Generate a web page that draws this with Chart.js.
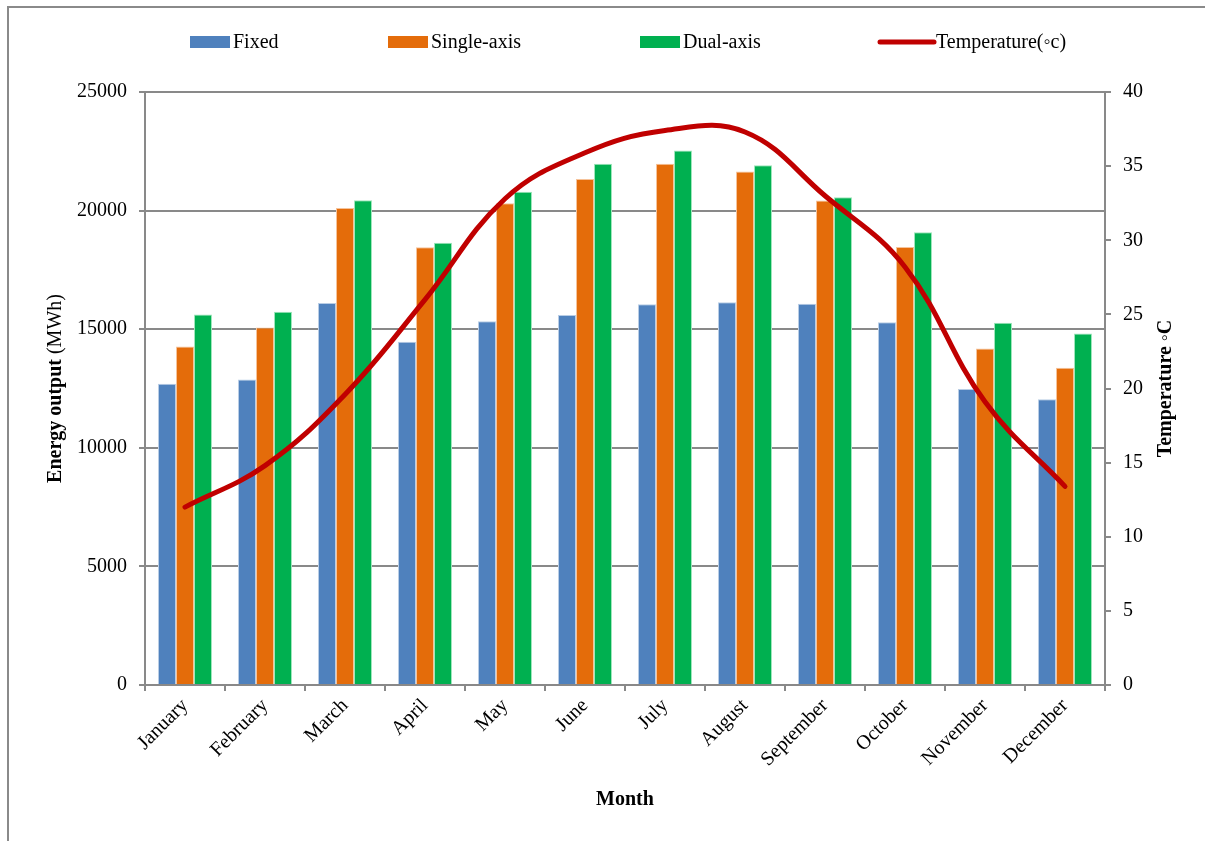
<!DOCTYPE html>
<html>
<head>
<meta charset="utf-8">
<script src="https://cdn.jsdelivr.net/npm/chart.js@4/dist/chart.umd.min.js"></script>
<style>
  body { margin: 0; background: #fff; }
  canvas { display: block; }
</style>
</head>
<body>
<canvas id="chart-energy" width="1205" height="841"></canvas>
<script>
// monthly data
const months = ['January', 'February', 'March', 'April', 'May', 'June',
    'July', 'August', 'September', 'October', 'November', 'December'];
const fixedOut = [12700, 12880, 16100, 14470, 15340, 15600, 16050, 16140, 16070, 15290, 12480, 12050];
const singleAxisOut = [14270, 15070, 20110, 18460, 20310, 21330, 21980, 21650, 20430, 18470, 14190, 13370];
const dualAxisOut = [15620, 15740, 20440, 18640, 20790, 21980, 22530, 21910, 20560, 19090, 15270, 14820];
const temperature = [12.0, 14.8, 19.6, 26.0, 32.8, 35.9, 37.4, 37.3, 33.0, 28.2, 19.1, 13.4];

const energyTicks = [0, 5000, 10000, 15000, 20000, 25000];
const tempTicks = [0, 5, 10, 15, 20, 25, 30, 35, 40];

const serif = '"Liberation Serif", "Times New Roman", serif';
const gray = '#898989';

// frame, legend and axis titles drawn by hand
const decorPlugin = {
    id: 'decor',
    beforeDraw(chart) {
        const ctx = chart.ctx;
        ctx.save();
        ctx.strokeStyle = '#8a8a8a';
        ctx.lineWidth = 2;
        ctx.beginPath();
        ctx.moveTo(8, 841);
        ctx.lineTo(8, 7);
        ctx.lineTo(1205, 7);
        ctx.stroke();
        ctx.restore();
    },
    afterDraw(chart) {
        const ctx = chart.ctx;
        const ds = chart.data.datasets;
        ctx.save();
        ctx.fillStyle = '#000';
        ctx.textBaseline = 'middle';
        ctx.font = '20px ' + serif;

        // legend
        const legendX = [190, 388, 640, 878];
        const legendY = 42;
        ds.forEach((d, i) => {
            const x = legendX[i];
            let textX;
            if (d.type === 'line') {
                ctx.strokeStyle = d.borderColor;
                ctx.lineWidth = 5;
                ctx.lineCap = 'round';
                ctx.beginPath();
                ctx.moveTo(x + 2, legendY);
                ctx.lineTo(x + 56, legendY);
                ctx.stroke();
                textX = x + 58;
            } else {
                ctx.fillStyle = d.backgroundColor;
                ctx.fillRect(x, legendY - 6, 40, 12);
                textX = x + 43;
            }
            ctx.fillStyle = '#000';
            ctx.textAlign = 'left';
            ctx.fillText(d.label, textX, legendY + 1);
        });

        // x title
        ctx.textAlign = 'center';
        ctx.font = 'bold 20px ' + serif;
        ctx.fillText('Month', 625, 800);

        // left title: bold + normal part
        const area = chart.chartArea;
        const midY = (area.top + area.bottom) / 2;
        ctx.save();
        ctx.translate(56, midY);
        ctx.rotate(-Math.PI / 2);
        ctx.font = 'bold 20px ' + serif;
        const part1 = 'Energy output';
        const w1 = ctx.measureText(part1).width;
        ctx.font = '20px ' + serif;
        const part2 = ' (MWh)';
        const w2 = ctx.measureText(part2).width;
        let start = -(w1 + w2) / 2;
        ctx.textAlign = 'left';
        ctx.font = 'bold 20px ' + serif;
        ctx.fillText(part1, start, 0);
        ctx.font = '20px ' + serif;
        ctx.fillText(part2, start + w1, 0);
        ctx.restore();

        // right title
        ctx.save();
        ctx.translate(1166, midY);
        ctx.rotate(-Math.PI / 2);
        ctx.textAlign = 'center';
        ctx.font = 'bold 20px ' + serif;
        ctx.fillText('Temperature \u25E6C', 0, 0);
        ctx.restore();

        ctx.restore();
    }
};

var ctxEnergy = document.getElementById('chart-energy').getContext('2d');
var chart_energy = new Chart(ctxEnergy, {
    type: 'bar',
    data: {
        labels: months,
        datasets: [
            {
                label: 'Fixed',
                data: fixedOut,
                backgroundColor: '#4f81bd',
                borderColor: '#b9cde5',
                borderWidth: 1,
                yAxisID: 'y',
                order: 1
            },
            {
                label: 'Single-axis',
                data: singleAxisOut,
                backgroundColor: '#e46c0a',
                borderColor: '#f6c39a',
                borderWidth: 1,
                yAxisID: 'y',
                order: 1
            },
            {
                label: 'Dual-axis',
                data: dualAxisOut,
                backgroundColor: '#00b050',
                borderColor: '#9ee6bb',
                borderWidth: 1,
                yAxisID: 'y',
                order: 1
            },
            {
                type: 'line',
                label: 'Temperature(\u25E6c)',
                data: temperature,
                borderColor: '#c00000',
                backgroundColor: '#c00000',
                borderWidth: 5,
                borderCapStyle: 'round',
                pointRadius: 0,
                tension: 0.4,
                fill: false,
                yAxisID: 'y1',
                order: 0
            }
        ]
    },
    options: {
        responsive: false,
        animation: false,
        layout: {
            padding: { top: 92, left: 0, right: 0, bottom: 0 }
        },
        plugins: {
            legend: { display: false },
            tooltip: { enabled: false }
        },
        datasets: {
            bar: {
                categoryPercentage: 0.675,
                barPercentage: 1
            }
        },
        scales: {
            x: {
                afterFit: s => { s.height = 156; },
                grid: {
                    offset: true,
                    drawOnChartArea: false,
                    drawTicks: true,
                    tickLength: 6,
                    color: gray,
                    lineWidth: 2
                },
                border: { color: gray, width: 2 },
                ticks: {
                    maxRotation: 45,
                    minRotation: 45,
                    padding: 3,
                    color: '#000',
                    font: { family: serif, size: 20 }
                }
            },
            y: {
                position: 'left',
                min: 0,
                max: 25000,
                afterFit: s => { s.width = 145; },
                afterBuildTicks: s => { s.ticks = energyTicks.map(v => ({ value: v })); },
                grid: {
                    color: gray,
                    lineWidth: 2,
                    tickLength: 6
                },
                border: { color: gray, width: 2 },
                ticks: {
                    padding: 12,
                    color: '#000',
                    font: { family: serif, size: 20 },
                    callback: v => String(v)
                }
            },
            y1: {
                position: 'right',
                min: 0,
                max: 40,
                afterFit: s => { s.width = 100; },
                afterBuildTicks: s => { s.ticks = tempTicks.map(v => ({ value: v })); },
                grid: {
                    drawOnChartArea: false,
                    color: gray,
                    lineWidth: 2,
                    tickLength: 6
                },
                border: { color: gray, width: 2 },
                ticks: {
                    padding: 12,
                    color: '#000',
                    font: { family: serif, size: 20 },
                    callback: v => String(v)
                }
            }
        }
    },
    plugins: [decorPlugin]
});
</script>
</body>
</html>
